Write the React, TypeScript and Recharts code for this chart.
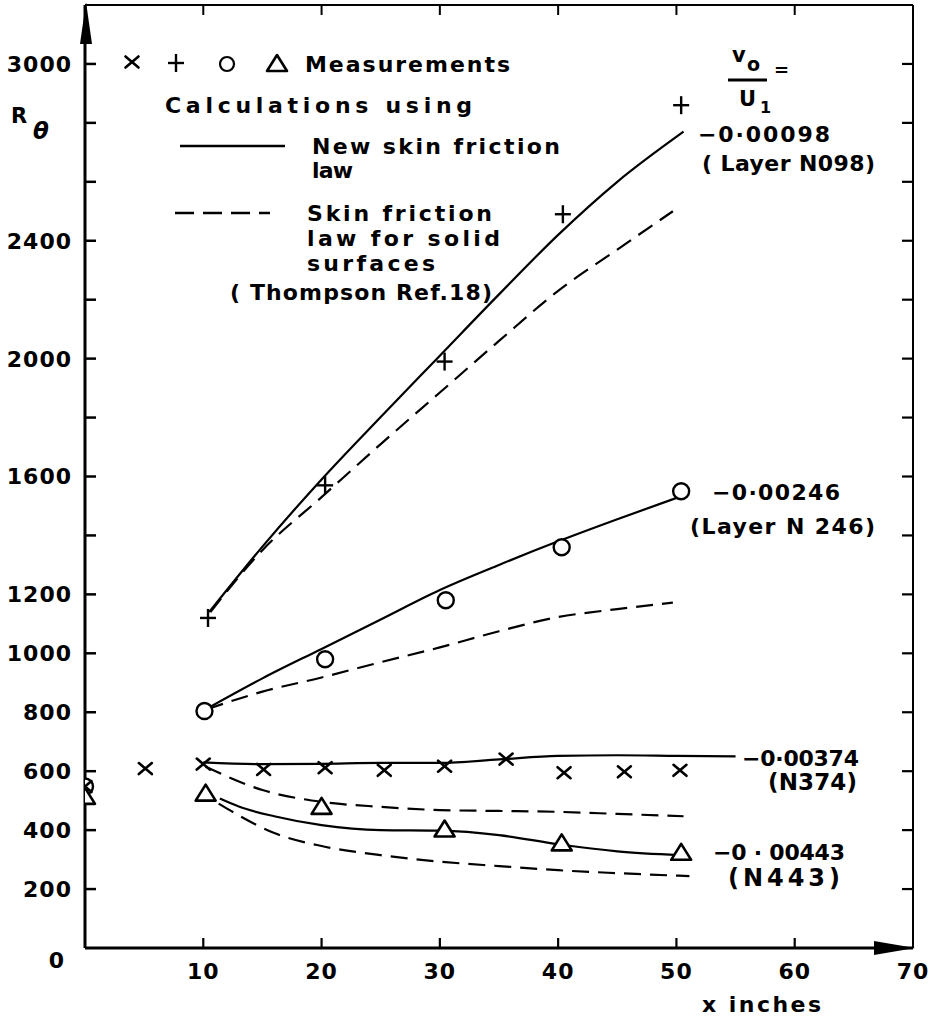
import React from 'react';
import { ComposedChart, Line, Scatter, XAxis, YAxis } from 'recharts';

// ---------- axes ----------
const xTicks = [0, 10, 20, 30, 40, 50, 60, 70];
const xLabels = [10, 20, 30, 40, 50, 60, 70];
const yTicks = [0, 200, 400, 600, 800, 1000, 1200, 1400, 1600, 1800, 2000, 2200, 2400, 2600, 2800, 3000, 3200];
const yLabels = [0, 200, 400, 600, 800, 1000, 1200, 1600, 2000, 2400, 3000];

// ---------- measurements ----------
const plusMeasured = [
  { x: 10.4, y: 1120 }, { x: 20.3, y: 1570 }, { x: 30.4, y: 1990 }, { x: 40.4, y: 2490 }, { x: 50.4, y: 2860 },
];
const circleMeasured = [
  { x: 0, y: 548 }, { x: 10.1, y: 804 }, { x: 20.3, y: 980 }, { x: 30.5, y: 1180 }, { x: 40.3, y: 1360 }, { x: 50.4, y: 1550 },
];
const crossMeasured = [
  { x: 0, y: 548 }, { x: 5.1, y: 609 }, { x: 10, y: 624 }, { x: 15.1, y: 606 }, { x: 20.3, y: 612 }, { x: 25.3, y: 603 },
  { x: 30.4, y: 617 }, { x: 35.6, y: 641 }, { x: 40.5, y: 595 }, { x: 45.6, y: 598 }, { x: 50.3, y: 603 },
];
const triangleMeasured = [
  { x: 0, y: 513 }, { x: 10.2, y: 524 }, { x: 20, y: 479 }, { x: 30.4, y: 402 }, { x: 40.3, y: 355 }, { x: 50.4, y: 323 },
];

// ---------- calculations: new skin friction law (solid) ----------
const n098New = [
  { x: 10.5, y: 1140 }, { x: 15, y: 1362 }, { x: 20, y: 1590 }, { x: 25, y: 1802 }, { x: 30, y: 2010 },
  { x: 35, y: 2218 }, { x: 40, y: 2420 }, { x: 45, y: 2600 }, { x: 50.6, y: 2770 },
];
const n246New = [
  { x: 10.3, y: 812 }, { x: 15, y: 915 }, { x: 20, y: 1015 }, { x: 25, y: 1115 }, { x: 30, y: 1215 },
  { x: 35, y: 1300 }, { x: 40, y: 1380 }, { x: 45, y: 1455 }, { x: 50.2, y: 1530 },
];
const n374New = [
  { x: 10, y: 630 }, { x: 15, y: 624 }, { x: 20, y: 625 }, { x: 25, y: 628 }, { x: 30, y: 628 },
  { x: 35, y: 640 }, { x: 40, y: 652 }, { x: 45, y: 654 }, { x: 50, y: 652 }, { x: 55, y: 650 },
];
const n443New = [
  { x: 11.4, y: 507 }, { x: 13, y: 480 }, { x: 16, y: 447 }, { x: 20, y: 417 }, { x: 25, y: 400 },
  { x: 30, y: 398 }, { x: 35, y: 383 }, { x: 40, y: 352 }, { x: 45, y: 328 }, { x: 50.3, y: 315 },
];

// ---------- calculations: solid-surface law (dashed) ----------
const n098Old = [
  { x: 10.6, y: 1140 }, { x: 15, y: 1350 }, { x: 20, y: 1530 }, { x: 25, y: 1710 }, { x: 30, y: 1885 },
  { x: 35, y: 2060 }, { x: 40, y: 2230 }, { x: 45, y: 2370 }, { x: 49.7, y: 2500 },
];
const n246Old = [
  { x: 10.3, y: 810 }, { x: 15, y: 870 }, { x: 20, y: 918 }, { x: 25, y: 970 }, { x: 30, y: 1020 },
  { x: 35, y: 1075 }, { x: 40, y: 1123 }, { x: 45, y: 1150 }, { x: 49.7, y: 1172 },
];
const n374Old = [
  { x: 10.2, y: 615 }, { x: 15, y: 536 }, { x: 20, y: 496 }, { x: 25, y: 479 }, { x: 30, y: 468 },
  { x: 35, y: 465 }, { x: 40, y: 462 }, { x: 45, y: 455 }, { x: 50.6, y: 447 },
];
const n443Old = [
  { x: 11.3, y: 490 }, { x: 13, y: 450 }, { x: 16, y: 390 }, { x: 20, y: 346 }, { x: 25, y: 315 },
  { x: 30, y: 293 }, { x: 35, y: 278 }, { x: 40, y: 264 }, { x: 45, y: 254 }, { x: 51.1, y: 244 },
];

const FONT = '"DejaVu Sans", "Liberation Sans", sans-serif';
const txt = { fontFamily: FONT, fontWeight: 700, fontSize: 22, fill: '#000' } as const;
const DASH = '17 9';

// ---------- marker shapes ----------
const CrossMark = ({ cx, cy }: any) => (
  <g stroke="#000" strokeWidth={2.6} strokeLinecap="round">
    <line x1={cx - 6.5} y1={cy - 5.5} x2={cx + 6.5} y2={cy + 5.5} />
    <line x1={cx - 6.5} y1={cy + 5.5} x2={cx + 6.5} y2={cy - 5.5} />
  </g>
);
const PlusMark = ({ cx, cy }: any) => (
  <g stroke="#000" strokeWidth={2.4}>
    <line x1={cx - 8} y1={cy} x2={cx + 8} y2={cy} />
    <line x1={cx} y1={cy - 9} x2={cx} y2={cy + 9} />
  </g>
);
const CircleMark = ({ cx, cy }: any) => (
  <circle cx={cx} cy={cy} r={8} fill="#fff" stroke="#000" strokeWidth={2.4} />
);
const TriangleMark = ({ cx, cy }: any) => (
  <polygon
    points={`${cx},${cy - 9} ${cx - 10},${cy + 7} ${cx + 10},${cy + 7}`}
    fill="#fff" stroke="#000" strokeWidth={2.6} strokeLinejoin="round"
  />
);

// ---------- ticks ----------
const LeftTick = (p: any) => {
  const { x, y, payload } = p;
  const v = payload.value;
  return (
    <g>
      {v > 0 && v < 3200 && <line x1={x} x2={x + 11} y1={y} y2={y} stroke="#000" strokeWidth={2.5} />}
      {yLabels.includes(v) && (
        <text x={v === 0 ? x - 20 : x - 13} y={v === 0 ? y + 12 : y} dy="0.36em" textAnchor="end" {...txt} letterSpacing={1}>
          {v}
        </text>
      )}
    </g>
  );
};
const RightTick = (p: any) => {
  const { x, y, payload } = p;
  const v = payload.value;
  if (v <= 0 || v >= 3200) return <g />;
  return <line x1={x - 11} x2={x} y1={y} y2={y} stroke="#000" strokeWidth={2.2} />;
};
const BottomTick = (p: any) => {
  const { x, y, payload } = p;
  const v = payload.value;
  return (
    <g>
      {v > 0 && v < 70 && <line x1={x} x2={x} y1={y} y2={y - 10} stroke="#000" strokeWidth={2.2} />}
      {xLabels.includes(v) && (
        <text x={x} y={y + 23} dy="0.36em" textAnchor="middle" {...txt} letterSpacing={1}>
          {v}
        </text>
      )}
    </g>
  );
};
const TopTick = (p: any) => {
  const { x, y, payload } = p;
  const v = payload.value;
  if (v <= 0 || v >= 70) return <g />;
  return <line x1={x} x2={x} y1={y} y2={y + 10} stroke="#000" strokeWidth={2} />;
};

const lineProps = {
  type: 'monotone' as const,
  dataKey: 'y',
  stroke: '#000',
  strokeWidth: 2.2,
  dot: false,
  activeDot: false,
  isAnimationActive: false,
  xAxisId: 'b',
  yAxisId: 'l',
  legendType: 'none' as const,
};

const T = ({ x, y, w, children, size }: any) => (
  <text x={x} y={y} dy="0.36em" {...txt} fontSize={size ?? 22}
    textLength={w} lengthAdjust={w ? 'spacing' : undefined}>
    {children}
  </text>
);

const Overlay = () => (
  <svg width={951} height={1025} style={{ position: 'absolute', left: 0, top: 0, pointerEvents: 'none' }}>
    {/* axis arrows */}
    <polygon points="86,2 80,44 92,44" fill="#000" />
    <polygon points="874,941 915,948 874,955" fill="#000" />

    {/* R theta */}
    <text x={11} y={115} dy="0.36em" {...txt} fontSize={21}>R</text>
    <text x={33} y={131} dy="0.36em" {...txt} fontSize={23} fontStyle="italic">θ</text>

    {/* legend */}
    <CrossMark cx={132} cy={62} />
    <PlusMark cx={176} cy={63} />
    <circle cx={227} cy={64} r={7} fill="#fff" stroke="#000" strokeWidth={2.2} />
    <TriangleMark cx={277} cy={64} />
    <T x={305} y={64} w={205}>Measurements</T>
    <T x={165} y={105} w={307}>Calculations  using</T>
    <line x1={180} x2={285} y1={146} y2={146} stroke="#000" strokeWidth={2.4} />
    <T x={312} y={146} w={248}>New  skin friction</T>
    <T x={312} y={170} w={41}>law</T>
    <line x1={175} x2={270} y1={213} y2={213} stroke="#000" strokeWidth={2.4} strokeDasharray="19 9" />
    <T x={307} y={213} w={185}>Skin friction</T>
    <T x={307} y={238} w={193}>law for solid</T>
    <T x={307} y={263} w={128}>surfaces</T>
    <T x={230} y={292} w={262}>( Thompson  Ref.18)</T>

    {/* v0/U1 = */}
    <text x={732} y={54} dy="0.36em" {...txt} fontSize={21}>v</text>
    <text x={747} y={64} dy="0.36em" {...txt} fontSize={19}>o</text>
    <line x1={728} x2={767} y1={80} y2={80} stroke="#000" strokeWidth={3} />
    <text x={774} y={70} dy="0.36em" {...txt} fontSize={18}>=</text>
    <text x={739} y={98} dy="0.36em" {...txt} fontSize={21}>U</text>
    <text x={760} y={107} dy="0.36em" {...txt} fontSize={16}>1</text>

    {/* series annotations */}
    <T x={698} y={134} w={132}>−0·00098</T>
    <T x={702} y={163} w={173}>( Layer N098)</T>
    <T x={712} y={492} w={128}>−0·00246</T>
    <T x={690} y={526} w={185}>(Layer N 246)</T>
    <T x={742} y={758} w={117}>−0·00374</T>
    <T x={768} y={782} w={89} size={23}>(N374)</T>
    <T x={713} y={852} w={132}>−0 · 00443</T>
    <T x={728} y={877} w={112} size={24}>(N443)</T>

    {/* axis title */}
    <T x={702} y={1004} w={119}>x  inches</T>
  </svg>
);

export default function App() {
  return (
    <div style={{ position: 'absolute', left: 0, top: 0, width: 951, height: 1025, background: '#fff' }}>
      <ComposedChart width={951} height={1025} margin={{ top: 0, right: 0, bottom: 0, left: 0 }}>
        <XAxis
          xAxisId="b" type="number" dataKey="x" domain={[0, 70]} ticks={xTicks} interval={0}
          orientation="bottom" height={77} tickSize={0} tickMargin={0} tick={BottomTick}
          axisLine={{ stroke: '#000', strokeWidth: 3 }} tickLine={false} allowDataOverflow
        />
        <XAxis
          xAxisId="t" type="number" dataKey="x" domain={[0, 70]} ticks={xTicks} interval={0}
          orientation="top" height={5} tickSize={0} tickMargin={0} tick={TopTick}
          axisLine={{ stroke: '#000', strokeWidth: 2 }} tickLine={false} allowDataOverflow
        />
        <YAxis
          yAxisId="l" type="number" dataKey="y" domain={[0, 3200]} ticks={yTicks} interval={0}
          orientation="left" width={85} tickSize={0} tickMargin={0} tick={LeftTick}
          axisLine={{ stroke: '#000', strokeWidth: 3 }} tickLine={false} allowDataOverflow
        />
        <YAxis
          yAxisId="r" type="number" dataKey="y" domain={[0, 3200]} ticks={yTicks} interval={0}
          orientation="right" width={38} tickSize={0} tickMargin={0} tick={RightTick}
          axisLine={{ stroke: '#000', strokeWidth: 2 }} tickLine={false} allowDataOverflow
        />

        <Line {...lineProps} data={n098New} />
        <Line {...lineProps} data={n246New} />
        <Line {...lineProps} data={n374New} />
        <Line {...lineProps} data={n443New} />
        <Line {...lineProps} data={n098Old} strokeDasharray={DASH} />
        <Line {...lineProps} data={n246Old} strokeDasharray={DASH} />
        <Line {...lineProps} data={n374Old} strokeDasharray={DASH} />
        <Line {...lineProps} data={n443Old} strokeDasharray={DASH} />

        <Scatter data={plusMeasured} xAxisId="b" yAxisId="l" isAnimationActive={false} shape={PlusMark} />
        <Scatter data={circleMeasured} xAxisId="b" yAxisId="l" isAnimationActive={false} shape={CircleMark} />
        <Scatter data={crossMeasured} xAxisId="b" yAxisId="l" isAnimationActive={false} shape={CrossMark} />
        <Scatter data={triangleMeasured} xAxisId="b" yAxisId="l" isAnimationActive={false} shape={TriangleMark} />
      </ComposedChart>
      <Overlay />
    </div>
  );
}
